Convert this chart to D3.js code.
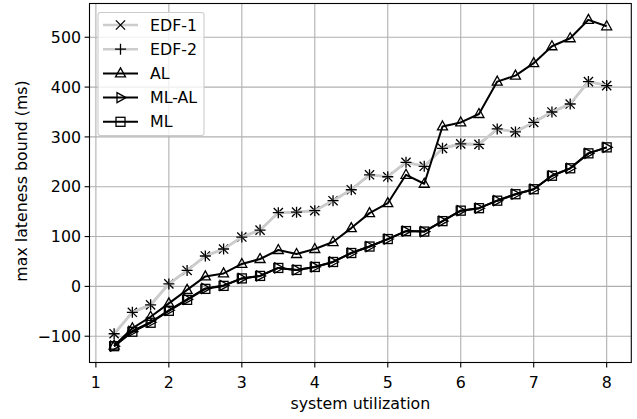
<!DOCTYPE html>
<html>
<head>
<meta charset="utf-8">
<script src="https://cdn.jsdelivr.net/npm/d3@7"></script>
<style>
  body { margin: 0; background: #fff; }
  svg text { font-family: "DejaVu Sans", sans-serif; }
</style>
</head>
<body>
<svg id="chart" width="637" height="419"></svg>
<script>
// utilization steps 1.25 .. 8
const utilization = [1.25, 1.5, 1.75, 2, 2.25, 2.5, 2.75, 3, 3.25, 3.5, 3.75, 4, 4.25, 4.5,
    4.75, 5, 5.25, 5.5, 5.75, 6, 6.25, 6.5, 6.75, 7, 7.25, 7.5, 7.75, 8];

const edf1 = [-95, -52, -37, 5, 32, 61, 75, 99, 113, 148, 149, 152, 172, 194,
    224, 220, 249, 241, 277, 286, 285, 316, 310, 329, 350, 366, 411, 403];
const edf2 = [-95, -52, -37, 5, 32, 61, 75, 99, 113, 148, 149, 152, 172, 194,
    224, 220, 249, 241, 277, 286, 285, 316, 310, 329, 350, 366, 411, 403];
const al = [-119, -84, -61, -34, -7, 20, 26, 45, 55, 73, 65, 75, 89, 117,
    147, 167, 224, 206, 321, 329, 346, 411, 423, 448, 482, 498, 535, 522];
const mlAl = [-120, -90, -72, -48, -26, -4, 2, 16, 21, 37, 33, 39, 49, 67,
    80, 95, 111, 110, 131, 152, 157, 172, 185, 195, 222, 237, 267, 279];
const ml = [-120, -91, -73, -49, -27, -5, 1, 16, 21, 37, 33, 39, 49, 67,
    80, 95, 111, 110, 131, 152, 157, 172, 185, 195, 222, 237, 267, 279];

const xTicks = [1, 2, 3, 4, 5, 6, 7, 8];
const yTicks = [-100, 0, 100, 200, 300, 400, 500];

const series = [
    { name: 'EDF-1', values: edf1, color: '#cccccc', marker: 'x' },
    { name: 'EDF-2', values: edf2, color: '#cccccc', marker: 'plus' },
    { name: 'AL', values: al, color: '#000000', marker: 'triUp' },
    { name: 'ML-AL', values: mlAl, color: '#000000', marker: 'triRight' },
    { name: 'ML', values: ml, color: '#000000', marker: 'square' }
];

var svg = d3.select('#chart');
var plotL = 89.5, plotR = 631.3, plotT = 3.5, plotB = 362.5;
var fs = '15.8px';

var x = d3.scaleLinear().domain([0.9125, 8.3375]).range([plotL, plotR]);
var y = d3.scaleLinear().domain([-152.75, 567.75]).range([plotB, plotT]);

// grid
svg.append('g').selectAll('line').data(xTicks).enter().append('line')
    .attr('x1', d => x(d)).attr('x2', d => x(d))
    .attr('y1', plotT).attr('y2', plotB)
    .attr('stroke', '#b0b0b0').attr('stroke-width', 1.1);
svg.append('g').selectAll('line').data(yTicks).enter().append('line')
    .attr('y1', d => y(d)).attr('y2', d => y(d))
    .attr('x1', plotL).attr('x2', plotR)
    .attr('stroke', '#b0b0b0').attr('stroke-width', 1.1);

// markers
function drawMarker(g, type, cx, cy) {
    var r = 4.6;
    if (type === 'x') {
        g.append('path').attr('d', `M${cx - r},${cy - r}L${cx + r},${cy + r}M${cx - r},${cy + r}L${cx + r},${cy - r}`)
            .attr('stroke', '#000').attr('stroke-width', 1.3).attr('fill', 'none');
    } else if (type === 'plus') {
        var p = 5.5;
        g.append('path').attr('d', `M${cx - p},${cy}L${cx + p},${cy}M${cx},${cy - p}L${cx},${cy + p}`)
            .attr('stroke', '#000').attr('stroke-width', 1.3).attr('fill', 'none');
    } else if (type === 'triUp') {
        g.append('path').attr('d', `M${cx},${cy - 5.5}L${cx + 5},${cy + 3.5}L${cx - 5},${cy + 3.5}Z`)
            .attr('stroke', '#000').attr('stroke-width', 1.3).attr('fill', 'none');
    } else if (type === 'triRight') {
        g.append('path').attr('d', `M${cx + 5.5},${cy}L${cx - 3.5},${cy + 5}L${cx - 3.5},${cy - 5}Z`)
            .attr('stroke', '#000').attr('stroke-width', 1.3).attr('fill', 'none');
    } else if (type === 'square') {
        g.append('rect').attr('x', cx - 4.5).attr('y', cy - 4.5).attr('width', 9).attr('height', 9)
            .attr('stroke', '#000').attr('stroke-width', 1.3).attr('fill', 'none');
    }
}

var line = d3.line().x((d, i) => x(utilization[i])).y(d => y(d));

series.forEach(function (s) {
    var g = svg.append('g');
    g.append('path').datum(s.values)
        .attr('d', line)
        .attr('fill', 'none')
        .attr('stroke', s.color)
        .attr('stroke-width', s.color === '#000000' ? 2 : 2.6)
        .attr('stroke-linejoin', 'round');
    s.values.forEach(function (v, i) {
        drawMarker(g, s.marker, x(utilization[i]), y(v));
    });
});

// axes frame
svg.append('rect').attr('x', plotL).attr('y', plotT)
    .attr('width', plotR - plotL).attr('height', plotB - plotT)
    .attr('fill', 'none').attr('stroke', '#000').attr('stroke-width', 1.1);

// ticks
var xAxis = svg.append('g');
xTicks.forEach(function (t) {
    xAxis.append('line').attr('x1', x(t)).attr('x2', x(t)).attr('y1', plotB).attr('y2', plotB + 4.9)
        .attr('stroke', '#000').attr('stroke-width', 1.1);
    xAxis.append('text').attr('x', x(t)).attr('y', plotB + 25.5)
        .attr('text-anchor', 'middle').attr('font-size', fs).text(t);
});
var yAxis = svg.append('g');
yTicks.forEach(function (t) {
    yAxis.append('line').attr('x1', plotL - 4.9).attr('x2', plotL).attr('y1', y(t)).attr('y2', y(t))
        .attr('stroke', '#000').attr('stroke-width', 1.1);
    yAxis.append('text').attr('x', plotL - 8.5).attr('y', y(t)).attr('dy', '0.36em')
        .attr('text-anchor', 'end').attr('font-size', fs).text(String(t).replace('-', '\u2212'));
});

svg.append('text').attr('x', (plotL + plotR) / 2).attr('y', 408.5)
    .attr('text-anchor', 'middle').attr('font-size', fs).text('system utilization');
svg.append('text').attr('transform', 'translate(26.5,181) rotate(-90)')
    .attr('text-anchor', 'middle').attr('font-size', fs).text('max lateness bound (ms)');

// legend
var lg = svg.append('g');
lg.append('rect').attr('x', 98).attr('y', 12.5).attr('width', 106).attr('height', 123).attr('rx', 2.5)
    .attr('fill', 'rgba(255,255,255,0.8)').attr('stroke', '#cccccc').attr('stroke-width', 1.1);
series.forEach(function (s, i) {
    var ly = 25 + i * 24.2;
    lg.append('line').attr('x1', 103).attr('x2', 138).attr('y1', ly).attr('y2', ly)
        .attr('stroke', s.color).attr('stroke-width', s.color === '#000000' ? 2 : 2.6);
    drawMarker(lg, s.marker, 120.5, ly);
    lg.append('text').attr('x', 150).attr('y', ly).attr('dy', '0.36em').attr('font-size', fs).text(s.name);
});
</script>
</body>
</html>
